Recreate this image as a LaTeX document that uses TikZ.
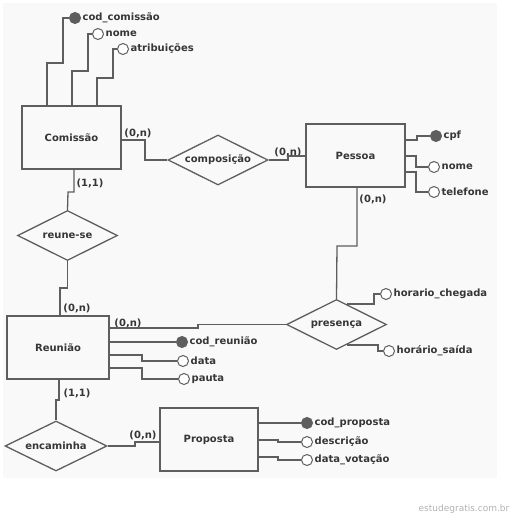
\documentclass[tikz,border=0pt]{standalone}
\usepackage{fontspec}
\setmainfont{DejaVu Sans}
\usetikzlibrary{shapes.geometric,positioning,calc}
\definecolor{linecol}{HTML}{5E5E5E}
\definecolor{txtcol}{HTML}{363636}
\tikzset{
  entity/.style={draw,rectangle,minimum width=99pt,minimum height=63pt,inner sep=0pt,font=\bfseries,text=txtcol,line width=1.5pt},
  relation/.style={draw,diamond,aspect=2,minimum width=100pt,minimum height=50pt,inner sep=0pt,font=\bfseries,text=txtcol},
  attr/.style={draw,circle,fill=white,minimum size=11pt,inner sep=0pt,line width=1pt},
  keyattr/.style={attr,fill=linecol},
  attrname/.style={right=1pt of #1,inner sep=0pt,font=\bfseries,text=txtcol},
  card/.style={inner sep=0pt,font=\bfseries,text=txtcol}
}

\begin{document}
\begin{tikzpicture}[x=1pt,y=-1pt,line width=1.3pt,color=linecol]
  \useasboundingbox (0,0) rectangle (511,517);
  \fill[gray!5] (3,3) rectangle (497,478);

  % entities and relationships
  \node[entity] (com) at (71.5,137.5) {Comissão};
  \node[entity] (pes) at (355.5,155.5) {Pessoa};
  \node[entity,minimum width=102pt] (reu) at (58,347.5) {Reunião};
  \node[entity,minimum width=98pt] (pro) at (209,439.5) {Proposta};
  \node[relation] (comp) at (218,160) {composição};
  \node[relation] (reune) at (67.5,235.5) {reune-se};
  \node[relation] (pres) at (336.5,324.5) {presença};
  \node[relation,minimum width=102pt] (enc) at (56,446) {encaminha};

  % attributes
  \node[keyattr] (cc) at (75,18) {};
  \node[attrname=cc] (tcc) {cod\_comissão};
  \node[attr] (cn) at (98,34) {};
  \node[attrname=cn] (tcn) {nome};
  \node[attr] (ca) at (123,49) {};
  \node[attrname=ca] (tca) {atribuições};

  \node[keyattr] (cpf) at (436,136) {};
  \node[attrname=cpf] (tcpf) {cpf};
  \node[attr] (pn) at (434,167) {};
  \node[attrname=pn] (tpn) {nome};
  \node[attr] (pt) at (434,192) {};
  \node[attrname=pt] (tpt) {telefone};

  \node[attr] (hc) at (386,294) {};
  \node[attrname=hc] (thc) {horario\_chegada};
  \node[attr] (hs) at (389,351) {};
  \node[attrname=hs] (ths) {horário\_saída};

  \node[keyattr] (cr) at (182,342) {};
  \node[attrname=cr] (tcr) {cod\_reunião};
  \node[attr] (dt) at (183,361) {};
  \node[attrname=dt] (tdt) {data};
  \node[attr] (pa) at (184,379) {};
  \node[attrname=pa] (tpa) {pauta};

  \node[keyattr] (cp) at (307,423) {};
  \node[attrname=cp] (tcp) {cod\_proposta};
  \node[attr] (ds) at (307,442) {};
  \node[attrname=ds] (tds) {descrição};
  \node[attr] (dv) at (307,460) {};
  \node[attrname=dv] (tdv) {data\_votação};

  % cardinalities
  \node[card] (k1) at (138,133) {(0,n)};
  \node[card] (k2) at (90,183) {(1,1)};
  \node[card] (k3) at (288,152) {(0,n)};
  \node[card] (k4) at (373,199) {(0,n)};
  \node[card] (k5) at (77,308) {(0,n)};
  \node[card] (k6) at (128,323) {(0,n)};
  \node[card] (k7) at (77,393) {(1,1)};
  \node[card] (k8) at (143,435) {(0,n)};

  % links
  \draw (com.east |- 0,140) -| (145,160) -- (comp.west);
  \draw (comp.east) -| (288,156) -- (pes.west |- 0,156);
  \draw (com.south -| 74,0) |- (68,192) -- (reune.north);
  \draw (reune.south) |- (60,288) -- (reu.north -| 60,0);
  \draw (pes.south -| 357,0) |- (337,246) -- (pres.north);
  \draw (reu.east |- 0,328) -| (198,324.5) -- (pres.west);
  \draw (reu.south -| 59,0) |- (56,400) -- (enc.north);
  \draw (enc.east) -| (135,442) -- (pro.west |- 0,442);

  \draw (com.north -| 47,0) |- (63,63) |- (cc);
  \draw (com.north -| 72,0) |- (88,71) |- (cn);
  \draw (com.north -| 97,0) |- (113,78) |- (ca);
  \draw (pes.east |- 0,140) -| (417,136) -- (cpf);
  \draw (pes.east |- 0,156) -| (416,167) -- (pn);
  \draw (pes.east |- 0,172) -| (416,192) -- (pt);
  \draw ($(pres.north)!0.2!(pres.east)$) -| (374,294) -- (hc);
  \draw ($(pres.south)!0.2!(pres.east)$) -| (378,351) -- (hs);
  \draw (reu.east |- 0,342) -- (cr);
  \draw (reu.east |- 0,355) -| (142,361) -- (dt);
  \draw (reu.east |- 0,368) -| (142,379) -- (pa);
  \draw (pro.east |- 0,423) -- (cp);
  \draw (pro.east |- 0,440) -| (278,442) -- (ds);
  \draw (pro.east |- 0,457) -| (278,460) -- (dv);

  \node[anchor=east,inner sep=0pt,text=gray!60,font=\small] (site) at (510,509) {estudegratis.com.br};
\end{tikzpicture}
\end{document}
